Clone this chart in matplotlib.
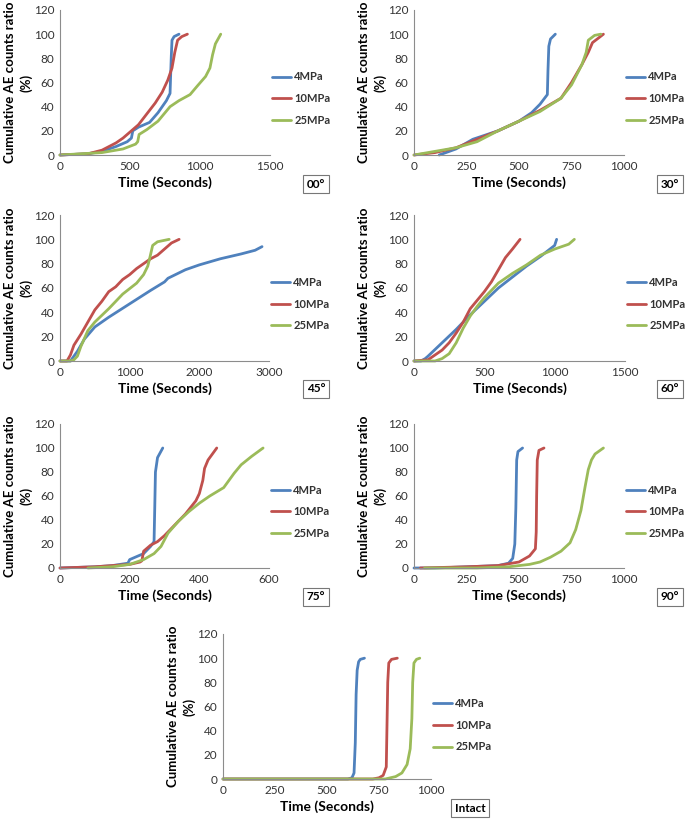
import matplotlib
matplotlib.use("Agg")
import matplotlib.pyplot as plt

plt.rcParams['font.family'] = ['Lato', 'DejaVu Sans']

LABELS = ["4MPa", "10MPa", "25MPa"]
COLORS = ["#4F81BD", "#C0504D", "#9BBB59"]

# 00 degrees
t00_4 = [0, 200, 300, 400, 480, 510, 520, 560, 640, 700, 760, 786, 790, 795, 800, 815, 850]
r00_4 = [0, 1, 3, 7, 11, 14, 20, 23, 27, 35, 45, 51, 65, 82, 95, 98, 100]
t00_10 = [0, 200, 300, 400, 450, 500, 560, 620, 680, 730, 770, 800, 820, 840, 870, 910]
r00_10 = [0, 1, 4, 10, 14, 19, 25, 34, 43, 52, 62, 72, 85, 95, 98, 100]
t00_25 = [0, 300, 450, 540, 555, 565, 620, 700, 786, 850, 929, 980, 1040, 1071, 1090, 1110, 1148]
r00_25 = [0, 2, 5, 9, 11, 17, 21, 28, 40, 45, 50, 57, 65, 72, 83, 92, 100]

# 30 degrees
t30_4 = [120, 200, 250, 280, 400, 500, 560, 600, 635, 638, 642, 650, 673]
r30_4 = [0, 5, 10, 13, 20, 28, 35, 42, 50, 70, 90, 96, 100]
t30_10 = [0, 100, 200, 300, 400, 500, 600, 700, 750, 800, 830, 850, 880, 902]
r30_10 = [0, 2, 6, 13, 20, 28, 37, 47, 60, 75, 85, 93, 97, 100]
t30_25 = [0, 100, 200, 300, 400, 500, 600, 700, 750, 800, 820, 830, 860, 890]
r30_25 = [0, 3, 6, 11, 20, 28, 36, 47, 58, 75, 85, 95, 99, 100]

# 45 degrees
t45_4 = [0, 150, 250, 350, 500, 700, 1000, 1300, 1500, 1550, 1800, 2000, 2300, 2600, 2800, 2900]
r45_4 = [0, 0, 8, 18, 28, 36, 47, 58, 65, 68, 75, 79, 84, 88, 91, 94]
t45_10 = [0, 100, 150, 200, 300, 400, 500, 600, 700, 800, 900, 1000, 1100, 1200, 1300, 1400, 1500, 1600, 1710]
r45_10 = [0, 0, 5, 13, 22, 32, 42, 49, 57, 61, 67, 71, 76, 80, 84, 87, 92, 97, 100]
t45_25 = [0, 150, 200, 250, 300, 400, 500, 700, 900, 1100, 1200, 1260, 1290, 1330, 1400, 1567]
r45_25 = [0, 0, 1, 4, 12, 25, 32, 43, 55, 64, 71, 78, 85, 95, 98, 100]

# 60 degrees
t60_4 = [0, 50, 80, 100, 200, 300, 400, 500, 600, 700, 800, 900, 1000, 1014]
r60_4 = [0, 0, 2, 4, 15, 26, 38, 49, 60, 69, 78, 86, 95, 100]
t60_10 = [0, 100, 200, 250, 300, 350, 400, 450, 500, 550, 600, 650, 700, 754]
r60_10 = [0, 1, 9, 15, 23, 32, 43, 50, 57, 65, 75, 85, 92, 100]
t60_25 = [0, 150, 200, 250, 300, 350, 400, 450, 500, 600, 700, 800, 900, 1000, 1100, 1140]
r60_25 = [0, 0, 2, 6, 15, 27, 37, 45, 52, 64, 72, 79, 87, 92, 96, 100]

# 75 degrees
t75_4 = [0, 100, 150, 195, 200, 240, 260, 270, 272, 274, 280, 295]
r75_4 = [0, 1, 2, 4, 7, 12, 18, 22, 50, 80, 92, 100]
t75_10 = [0, 100, 200, 230, 235, 240, 260, 280, 300, 330, 360, 390, 400, 410, 415, 425, 450]
r75_10 = [0, 1, 3, 5, 6, 14, 19, 22, 27, 36, 45, 56, 62, 73, 83, 90, 100]
t75_25 = [80, 150, 200, 240, 270, 290, 310, 340, 370, 400, 430, 470, 500, 520, 550, 583]
r75_25 = [0, 1, 3, 7, 12, 18, 29, 39, 47, 54, 60, 67, 79, 86, 93, 100]

# 90 degrees
t90_4 = [0, 100, 250, 400, 450, 470, 480, 485, 489, 495, 517]
r90_4 = [0, 0, 1, 2, 4, 8, 20, 50, 90, 97, 100]
t90_10 = [30, 250, 400, 500, 550, 578, 582, 584, 587, 595, 619]
r90_10 = [0, 1, 2, 5, 10, 16, 30, 60, 90, 98, 100]
t90_25 = [50, 300, 450, 550, 600, 650, 700, 743, 770, 795, 815, 830, 845, 862, 902]
r90_25 = [0, 0, 1, 3, 5, 9, 14, 21, 32, 48, 68, 82, 90, 95, 100]

# intact
tin_4 = [0, 600, 620, 630, 636, 640, 645, 652, 660, 680]
rin_4 = [0, 0, 1, 5, 30, 70, 90, 97, 99, 100]
tin_10 = [0, 720, 750, 770, 785, 788, 792, 797, 810, 838]
rin_10 = [0, 0, 1, 3, 10, 40, 80, 96, 99, 100]
tin_25 = [0, 780, 830, 860, 885, 900, 908, 912, 918, 930, 946]
rin_25 = [0, 0, 2, 5, 12, 25, 50, 80, 96, 99, 100]

W, H = 685, 819


def add_panel(fig, box, data, xmax, xstep, tag, tagpos, legy=0.39):
    x0, y0, x1, y1 = box
    ax = fig.add_axes([x0 / W, 1 - y1 / H, (x1 - x0) / W, (y1 - y0) / H])
    for (t, r), c, lab in zip(data, COLORS, LABELS):
        ax.plot(t, r, color=c, lw=2.0, label=lab, clip_on=False, solid_capstyle='round')
    ax.set_xlim(0, xmax)
    ax.set_ylim(0, 120)
    ax.set_xticks(range(0, xmax + 1, xstep))
    ax.set_yticks(range(0, 121, 20))
    for s in ['top', 'right']:
        ax.spines[s].set_visible(False)
    for s in ['left', 'bottom']:
        ax.spines[s].set_color('#8c8c8c')
        ax.spines[s].set_linewidth(0.8)
    ax.tick_params(length=0, labelsize=8.5, pad=4, labelcolor='#333333')
    leg = ax.legend(loc='center left', bbox_to_anchor=(1.01, legy), frameon=False,
                    fontsize=8, handlelength=1.7, handletextpad=0.3,
                    labelspacing=0.95, borderpad=0, borderaxespad=0)
    for txt in leg.get_texts():
        txt.set_fontweight('bold')
        txt.set_color('#333333')
    # axis titles
    cx = (x0 + x1) / 2
    fig.text(cx / W, 1 - (y1 + 28) / H, "Time (Seconds)", ha='center', va='center',
             fontsize=10, fontweight='bold')
    cy = (y0 + y1) / 2
    fig.text((x0 - 42) / W, 1 - cy / H, "Cumulative AE counts ratio\n(%)", rotation=90,
             ha='center', va='center', fontsize=9.5, fontweight='bold',
             multialignment='center', linespacing=1.4)
    fig.text(tagpos[0] / W, 1 - tagpos[1] / H, tag, ha='center', va='center',
             fontsize=8.5, fontweight='bold',
             bbox=dict(boxstyle='square,pad=0.3', fc='white', ec='#777777', lw=0.8))
    return ax


fig = plt.figure(figsize=(W / 100, H / 100), dpi=100)

add_panel(fig, (60, 10, 270, 155), [(t00_4, r00_4), (t00_10, r00_10), (t00_25, r00_25)],
          1500, 500, "00°", (316, 184))
add_panel(fig, (414, 10, 624, 155), [(t30_4, r30_4), (t30_10, r30_10), (t30_25, r30_25)],
          1000, 250, "30°", (670, 184))
add_panel(fig, (60, 215, 269, 361), [(t45_4, r45_4), (t45_10, r45_10), (t45_25, r45_25)],
          3000, 1000, "45°", (316, 389))
add_panel(fig, (414, 215, 625, 361), [(t60_4, r60_4), (t60_10, r60_10), (t60_25, r60_25)],
          1500, 500, "60°", (670, 389))
add_panel(fig, (60, 424, 269, 568), [(t75_4, r75_4), (t75_10, r75_10), (t75_25, r75_25)],
          600, 200, "75°", (316, 597))
add_panel(fig, (414, 424, 624, 568), [(t90_4, r90_4), (t90_10, r90_10), (t90_25, r90_25)],
          1000, 250, "90°", (670, 597))
add_panel(fig, (223, 634, 431, 779), [(tin_4, rin_4), (tin_10, rin_10), (tin_25, rin_25)],
          1000, 250, "Intact", (470, 808), legy=0.37)

fig.savefig("out.png", dpi=100)
